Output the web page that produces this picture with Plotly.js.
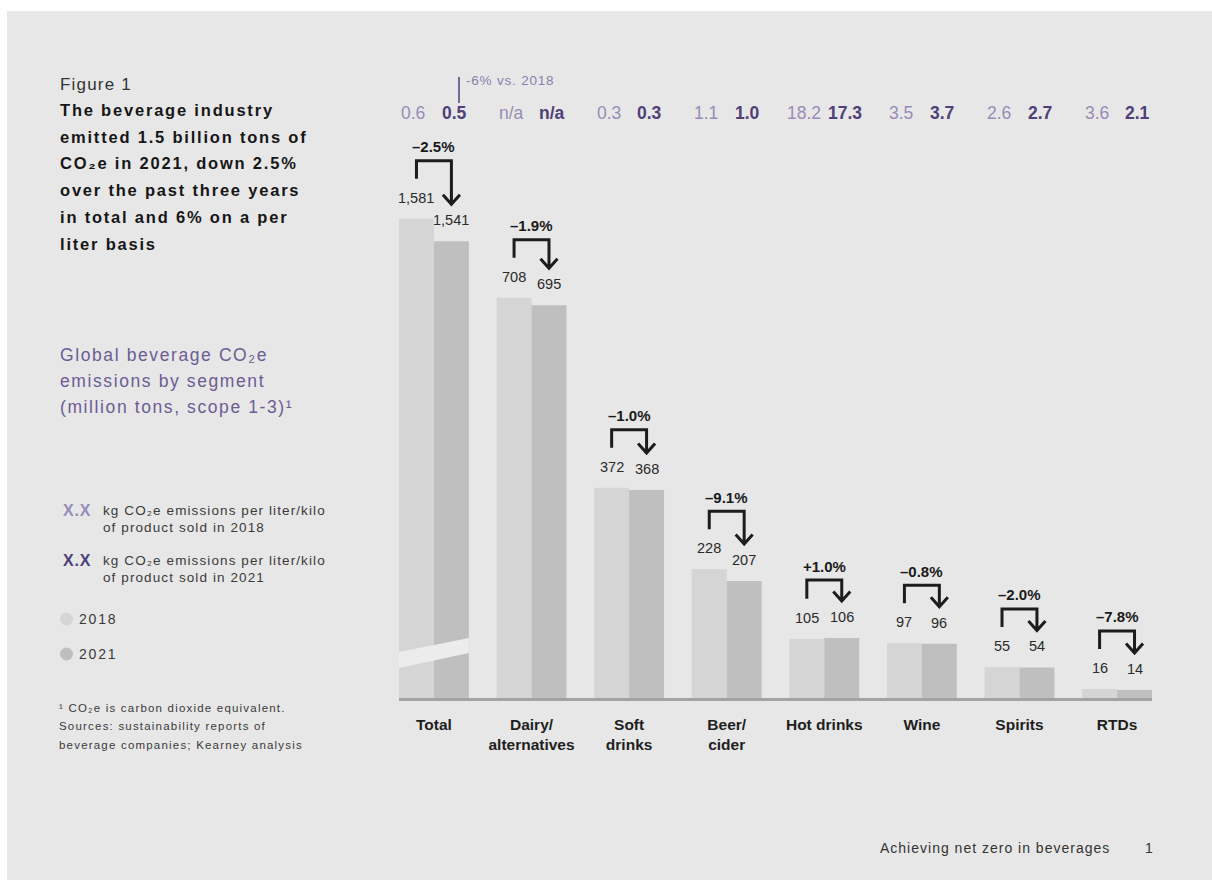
<!DOCTYPE html>
<html>
<head>
<meta charset="utf-8">
<script src="https://cdn.plot.ly/plotly-3.0.1.min.js"></script>
<style>
html, body { margin: 0; padding: 0; background: #ffffff; }
#chart { width: 1212px; height: 880px; }
</style>
</head>
<body>
<div id="chart"></div>
<script>
// ---------------- data ----------------
const categories = ['Total', 'Dairy/<br>alternatives', 'Soft<br>drinks', 'Beer/<br>cider', 'Hot drinks', 'Wine', 'Spirits', 'RTDs'];
const emissions2018 = [1581, 708, 372, 228, 105, 97, 55, 16];
const emissions2021 = [1541, 695, 368, 207, 106, 96, 54, 14];
const changeLabels = ['–2.5%', '–1.9%', '–1.0%', '–9.1%', '+1.0%', '–0.8%', '–2.0%', '–7.8%'];
const perLiter2018 = ['0.6', 'n/a', '0.3', '1.1', '18.2', '3.5', '2.6', '3.6'];
const perLiter2021 = ['0.5', 'n/a', '0.3', '1.0', '17.3', '3.7', '2.7', '2.1'];
const axisBreakOffset = 733;   // million tons cut out of the Total bars by the axis break
const breakIndex = 0;

// ---------------- layout constants ----------------
const W = 1212, H = 880;
const ML = 399, MR = 60, MT = 100, MB = 182;
const PW = W - ML - MR, PH = H - MT - MB;
const XR = [-0.358, 7.358];
const YR = [0, 1058];
const BARGAP = 0.284;
const half = (1 - BARGAP) / 4;          // offset of each bar centre from category centre

const dx = p => p * (XR[1] - XR[0]) / PW;   // pixels -> x data units
const dy = p => p * (YR[1] - YR[0]) / PH;   // pixels -> y data units
const pxX = x => (x - ML) / PW;             // page pixel -> paper x
const pxY = y => (H - MB - y) / PH;         // page pixel -> paper y

const idx = categories.map((_, i) => i);
const shown2018 = emissions2018.map((v, i) => i === breakIndex ? v - axisBreakOffset : v);
const shown2021 = emissions2021.map((v, i) => i === breakIndex ? v - axisBreakOffset : v);
const fmt = v => v.toLocaleString('en-US');

const FONT = 'Liberation Sans, Arial, Helvetica, sans-serif';
const LIGHT_PURPLE = '#978cb6';
const DARK_PURPLE = '#4f407a';

// ---------------- traces ----------------
const traces = [
  {
    type: 'bar', name: '2018', x: idx, y: shown2018,
    marker: { color: '#d5d5d5', line: { width: 0 } },
    hoverinfo: 'skip'
  },
  {
    type: 'bar', name: '2021', x: idx, y: shown2021,
    marker: { color: '#bfbfbf', line: { width: 0 } },
    hoverinfo: 'skip'
  }
];

// ---------------- shapes ----------------
const shapes = [];
shapes.push({
  type: 'rect', xref: 'paper', yref: 'paper', layer: 'below',
  x0: pxX(7), x1: pxX(W + 5), y0: pxY(H + 5), y1: pxY(11),
  fillcolor: '#e7e7e7', line: { width: 0 }
});
// axis break band across the Total bars (pixel heights above the baseline)
shapes.push({
  type: 'path', xref: 'x', yref: 'y', ysizemode: 'pixel', yanchor: 0,
  path: 'M' + XR[0] + ',30 L' + (breakIndex + 2 * half) + ',45 L' + (breakIndex + 2 * half) + ',60 L' + XR[0] + ',46 Z',
  fillcolor: '#ececec', line: { width: 0 }, layer: 'above'
});
// change brackets with arrow
idx.forEach(i => {
  const xa = i - half, xb = i + half;
  const yTop = Math.max(shown2018[i], shown2021[i]);
  const yH = yTop + dy(58);
  const yL = shown2018[i] + dy(40);
  const yTip = shown2021[i] + dy(37);
  const hw = dx(8.5), hh = dy(9.5);
  shapes.push({
    type: 'path', xref: 'x', yref: 'y',
    path: 'M' + xa + ',' + yL + ' L' + xa + ',' + yH + ' L' + xb + ',' + yH + ' L' + xb + ',' + yTip +
          ' M' + (xb - hw) + ',' + (yTip + hh) + ' L' + xb + ',' + yTip + ' L' + (xb + hw) + ',' + (yTip + hh),
    line: { color: '#1c1c1c', width: 3 }
  });
});
shapes.push({
  type: 'line', xref: 'paper', yref: 'paper',
  x0: pxX(459), x1: pxX(459), y0: pxY(103), y1: pxY(77),
  line: { color: DARK_PURPLE, width: 1.5 }
});
shapes.push({ type: 'circle', xref: 'paper', yref: 'paper', x0: pxX(60), x1: pxX(73), y0: pxY(625.5), y1: pxY(612.5), fillcolor: '#d5d5d5', line: { width: 0 } });
shapes.push({ type: 'circle', xref: 'paper', yref: 'paper', x0: pxX(60), x1: pxX(73), y0: pxY(660.5), y1: pxY(647.5), fillcolor: '#bfbfbf', line: { width: 0 } });

// ---------------- annotations ----------------
const annotations = [];
const spacing = [];   // [annotation index, letter-spacing px]
const note = (x, y, text, size, color, ls, weight) => {
  annotations.push({
    xref: 'paper', yref: 'paper', x: pxX(x), y: pxY(y), text: text, showarrow: false,
    xanchor: 'left', yanchor: 'middle', align: 'left',
    font: { family: FONT, size: size, color: color, weight: weight || 'normal' }
  });
  if (ls) spacing.push([annotations.length - 1, ls]);
};

idx.forEach(i => {
  annotations.push({ xref: 'x', yref: 'y', x: i - half, y: shown2018[i], yshift: 21, text: fmt(emissions2018[i]),
    showarrow: false, xanchor: 'center', yanchor: 'middle', font: { family: FONT, size: 14.5, color: '#2a2a2a' } });
  annotations.push({ xref: 'x', yref: 'y', x: i + half, y: shown2021[i], yshift: 21, text: fmt(emissions2021[i]),
    showarrow: false, xanchor: 'center', yanchor: 'middle', font: { family: FONT, size: 14.5, color: '#2a2a2a' } });
  const yH = Math.max(shown2018[i], shown2021[i]) + dy(58);
  annotations.push({ xref: 'x', yref: 'y', x: i, y: yH, yshift: 14, text: changeLabels[i],
    showarrow: false, xanchor: 'center', yanchor: 'middle', font: { family: FONT, size: 15, color: '#1a1a1a', weight: 'bold' } });
  annotations.push({ xref: 'x', yref: 'paper', x: i - half, xshift: -3, y: pxY(113), text: perLiter2018[i],
    showarrow: false, xanchor: 'center', yanchor: 'middle', font: { family: FONT, size: 17.5, color: LIGHT_PURPLE } });
  annotations.push({ xref: 'x', yref: 'paper', x: i + half, xshift: 3, y: pxY(113), text: perLiter2021[i],
    showarrow: false, xanchor: 'center', yanchor: 'middle', font: { family: FONT, size: 17.5, color: DARK_PURPLE, weight: 'bold' } });
});
note(464, 81, '-6% vs. 2018', 13.5, '#8a7fae', 0.8);

// left panel
note(58, 85, 'Figure 1', 17, '#333333', 1.2);
const titleLines = ['The beverage industry', 'emitted 1.5 billion tons of', 'CO₂e in 2021, down 2.5%',
                    'over the past three years', 'in total and 6% on a per', 'liter basis'];
titleLines.forEach((t, k) => note(58, 110 + k * 26.7, t, 16.5, '#161616', 1.8, 'bold'));
const subLines = ['Global beverage CO₂e', 'emissions by segment', '(million tons, scope 1-3)¹'];
subLines.forEach((t, k) => note(58, 355 + k * 26, t, 17.5, '#6c5c94', 1.6));

note(61, 510, 'X.X', 16, LIGHT_PURPLE, 0.8, 'bold');
note(101, 510, 'kg CO₂e emissions per liter/kilo', 13.5, '#3a3a3a', 1.1);
note(101, 527, 'of product sold in 2018', 13.5, '#3a3a3a', 1.1);
note(61, 560, 'X.X', 16, DARK_PURPLE, 0.8, 'bold');
note(101, 560, 'kg CO₂e emissions per liter/kilo', 13.5, '#3a3a3a', 1.1);
note(101, 577, 'of product sold in 2021', 13.5, '#3a3a3a', 1.1);
note(77, 619, '2018', 14, '#3a3a3a', 1.8);
note(77, 654, '2021', 14, '#3a3a3a', 1.8);

note(57, 708, '¹ CO₂e is carbon dioxide equivalent.', 11.5, '#3a3a3a', 1.2);
note(57, 726, 'Sources: sustainability reports of', 11.5, '#3a3a3a', 1.2);
note(57, 745, 'beverage companies; Kearney analysis', 11.5, '#3a3a3a', 1.2);

note(878, 848, 'Achieving net zero in beverages', 14, '#333333', 1.0);
note(1143, 848, '1', 14, '#333333');

// letter spacing for the tracked page texts
const css = spacing.map(([k, ls]) => '#chart .annotation[data-index="' + k + '"] text { letter-spacing: ' + ls + 'px; }').join('\n');
const styleEl = document.createElement('style');
styleEl.textContent = css;
document.head.appendChild(styleEl);

// ---------------- layout ----------------
const layout = {
  width: W, height: H,
  margin: { l: ML, r: MR, t: MT, b: MB, pad: 0 },
  paper_bgcolor: '#ffffff', plot_bgcolor: 'rgba(0,0,0,0)',
  barmode: 'group', bargap: BARGAP, bargroupgap: 0,
  showlegend: false,
  font: { family: FONT, color: '#222222' },
  xaxis: {
    type: 'linear', range: XR, tickmode: 'array', tickvals: idx, ticktext: categories,
    tickfont: { family: FONT, size: 15.5, color: '#1e1e1e', weight: 'bold' },
    showgrid: false, zeroline: false, showline: true, linecolor: '#a3a3a3', linewidth: 3,
    ticks: 'outside', ticklen: 10, tickcolor: 'rgba(0,0,0,0)', fixedrange: true
  },
  yaxis: { range: YR, visible: false, fixedrange: true },
  shapes: shapes,
  annotations: annotations
};

Plotly.newPlot('chart', traces, layout, { staticPlot: true, displayModeBar: false });
</script>
</body>
</html>
